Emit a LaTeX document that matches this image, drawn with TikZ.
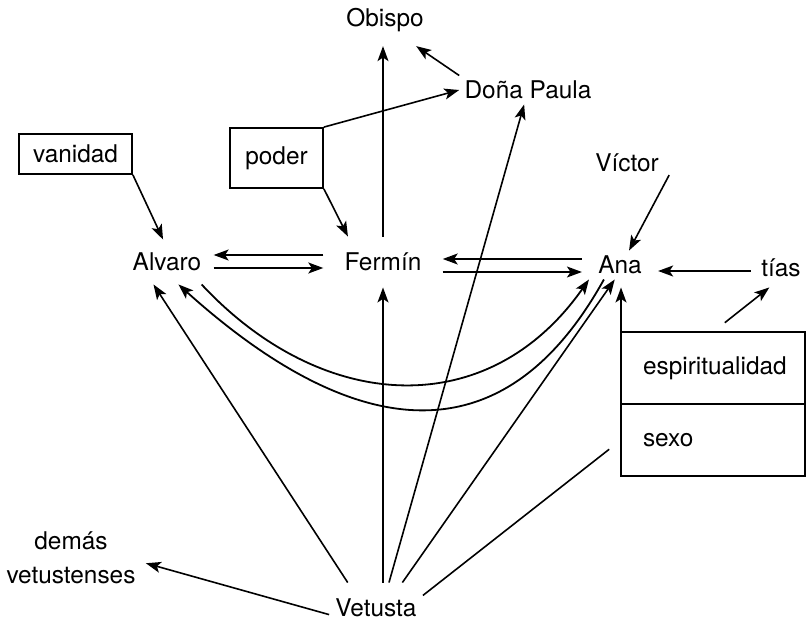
\documentclass[tikz,border=0pt]{standalone}
\usepackage{fontspec}
\setmainfont{TeX Gyre Heros}
\usetikzlibrary{positioning,arrows.meta}

\begin{document}
\begin{tikzpicture}[x=0.5pt,y=-0.5pt,
  >={Stealth[length=7.5pt,width=5.5pt,inset=1.8pt]},
  font=\fontsize{12.2}{17}\selectfont,
  lbl/.style={inner sep=5pt},
  tag/.style={draw, line width=0.9pt, inner sep=0pt},
  cell/.style={draw, line width=0.9pt, outer sep=0pt, text width=70pt, inner xsep=11pt, minimum height=36pt, align=left},
  rel/.style={draw, line width=0.8pt}]
\useasboundingbox (0,0) rectangle (812,625);

\node (obispo) [inner sep=7pt] at (385,20) {Obispo};
\node (paula) [inner sep=2.5pt] at (528,90) {Doña Paula};
\node (poder) [tag, minimum width=46.5pt, minimum height=30pt] at (276.5,158) {poder};
\node (vanidad) [tag, minimum width=56.5pt, minimum height=20pt] at (75.5,154) {vanidad};
\node (alvaro) [inner xsep=6pt, inner ysep=6.5pt] at (167,262) {Alvaro};
\node (fermin) [inner xsep=10.5pt, inner ysep=8pt] at (383,262) {Fermín};
\node (ana) [inner xsep=8pt, inner ysep=2.5pt] at (620,265) {Ana};
\node (victor) [lbl] at (627,163) {Víctor};
\node (tias) [lbl] at (781,268) {tías};
\node (espi) [cell] at (713,368) {espiritualidad};
\node (sexo) [cell, below=0pt of espi] {sexo};
\node (vet) [inner xsep=3pt, inner ysep=8pt] at (376,608) {Vetusta};
\node (demas) [lbl, align=center] at (71,558) {demás\\vetustenses};

\path[rel,->] (vanidad.south east) -- (alvaro.100);
\path[rel,->] (poder.south east) -- (fermin.144);
\path[rel,->] (poder.north east) -- (paula.west);
\path[rel,->] (paula.north west) -- (obispo.-40);
\path[rel,->] (fermin.north) -- (fermin.north |- obispo.south);

\path[rel,->] ([yshift=3.5pt]fermin.west) -- ([yshift=3.5pt]fermin.west -| alvaro.east);
\path[rel,->] ([yshift=-3pt]alvaro.east) -- ([yshift=-3pt]alvaro.east -| fermin.west);
\path[rel,->] ([yshift=3pt]ana.west) -- ([yshift=3pt]ana.west -| fermin.east);
\path[rel,->] ([yshift=-3.5pt]ana.west -| fermin.east) -- ([yshift=-3.5pt]ana.west);

\path[rel,->] (victor.-16) -- (ana.58);
\path[rel,->] ([yshift=-1.5pt]tias.west) -- ([yshift=-1.5pt]tias.west -| ana.east);
\path[rel,->,shorten <=7.5pt] (espi.north) -- (tias.239);
\path[rel,->,shorten >=4pt] (espi.north west) -- (espi.north west |- ana.south);

\path[rel,line width=0.9pt,->] (alvaro.327) to[out=-47, in=235, looseness=1.16] (ana.205);
\path[rel,line width=0.9pt,->] (ana.222) to[out=241, in=318, looseness=1.32] (alvaro.297);

\path[rel,->] (vet.138.5) -- (alvaro.239);
\path[rel,->] (vet.north -| fermin.south) -- (fermin.south);
\path[rel,->] (vet.63) -- (paula.255);
\path[rel,->] (vet.44) -- (ana.250);
\path[rel,shorten >=7.5pt] (vet.15.5) -- (sexo.west);
\path[rel,->] (vet.188) -- (demas.-4);
\end{tikzpicture}
\end{document}
